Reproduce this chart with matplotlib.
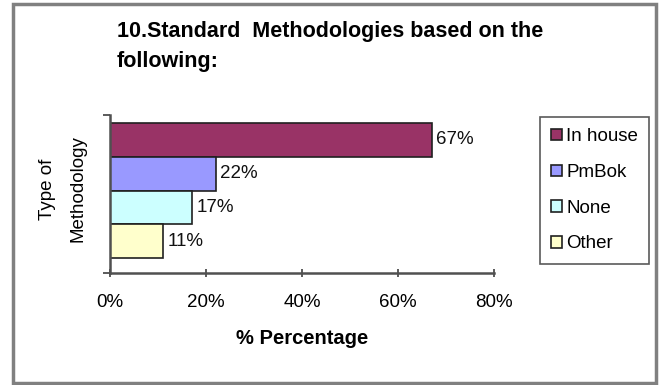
import matplotlib
matplotlib.use("Agg")
import matplotlib.pyplot as plt
from matplotlib.patches import Patch, Rectangle

plt.rcParams['font.family'] = ['Liberation Sans', 'DejaVu Sans']

# Survey answers: which methodology the standard is based on
methods = ["In house", "PmBok", "None", "Other"]
percent = [67, 22, 17, 11]
colors = ["#993366", "#9999FF", "#CCFFFF", "#FFFFCC"]
xticks = [0, 20, 40, 60, 80]

W, H = 660, 385
fig = plt.figure(figsize=(6.6, 3.85), dpi=100)

# plot area in pixel terms
left, right, top, bottom = 110, 494, 115, 273
ax = fig.add_axes([left / W, 1 - bottom / H, (right - left) / W, (bottom - top) / H])

pos = list(range(len(methods)))[::-1]
for p, v, c, name in zip(pos, percent, colors, methods):
    ax.barh(p, v, height=1.0, color=c, edgecolor="#202020", linewidth=1.2, label=name)
    ax.text(v + 1.0, p, f"{v}%", va="center", ha="left", fontsize=13.5, color="#111111")

ax.set_xlim(0, 80)
ax.set_ylim(-0.94, 3.74)
ax.set_xticks(xticks)
ax.set_xticklabels([f"{t}%" for t in xticks], fontsize=13.5)
ax.set_yticks([-0.94, 3.74])
ax.set_yticklabels([])
ax.tick_params(axis="x", direction="inout", length=6, width=1.2, color="#404040", pad=12)
ax.tick_params(axis="y", direction="out", length=5, width=1.2, color="#404040")

for s in ["top", "right"]:
    ax.spines[s].set_visible(False)
for s in ["left", "bottom"]:
    ax.spines[s].set_color("#505050")
    ax.spines[s].set_linewidth(1.8)

ax.set_xlabel("% Percentage", fontsize=14.5, fontweight="bold", labelpad=13)

fig.text(48 / W, 1 - 189 / H, "Type of", rotation=90, fontsize=13.5, ha="center", va="center")
fig.text(78 / W, 1 - 189 / H, "Methodology", rotation=90, fontsize=13.5, ha="center", va="center")

fig.text(117 / W, 1 - 32 / H, "10.Standard  Methodologies based on the",
         fontsize=15.5, fontweight="bold", ha="left", va="center")
fig.text(117 / W, 1 - 61 / H, "following:",
         fontsize=15.5, fontweight="bold", ha="left", va="center")

handles = [Patch(facecolor=c, edgecolor="#202020", linewidth=1.2) for c in colors]
leg = fig.legend(handles, methods, loc="upper left",
                 bbox_to_anchor=(540 / W, 1 - 117 / H), fontsize=13.5,
                 handlelength=0.55, handleheight=0.55, handletextpad=0.25,
                 labelspacing=1.0, borderpad=0.6, borderaxespad=0,
                 fancybox=False, shadow=False, frameon=True)
leg.get_frame().set_edgecolor("#303030")
leg.get_frame().set_linewidth(1.2)

# grey border round the whole chart
fig.patches.append(Rectangle((13 / W, 1 - 383 / H), (656 - 13) / W, (383 - 4) / H,
                             transform=fig.transFigure, fill=False,
                             edgecolor="#808080", linewidth=2.5))

fig.savefig("out.png", dpi=100)
